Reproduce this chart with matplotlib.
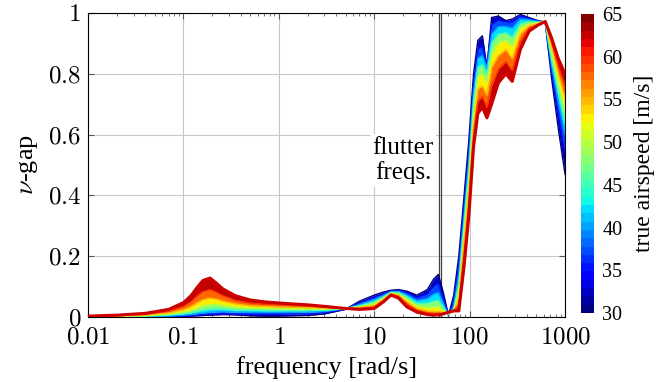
import matplotlib
matplotlib.use("Agg")
import matplotlib as mpl
import matplotlib.pyplot as plt
from matplotlib.ticker import FuncFormatter, LogLocator, NullFormatter

# ---- datos ----
freq = [0.01, 0.02, 0.04, 0.07,
        0.1, 0.12, 0.14, 0.16, 0.19, 0.22, 0.26, 0.35, 0.5, 0.7, 1,
        2, 3, 5, 7, 10,
        12.5, 15, 18, 22, 28,
        36, 42, 47, 53, 60, 68,
        77, 87, 98, 110, 122, 136, 152, 170,
        200, 240, 280, 340, 420, 520, 620, 720, 850, 1000]

speeds = [30, 35, 40, 45, 50, 55, 60, 65]

nu_gap_30 = [0.0, 0.0, 0.0, 0.001,
             0.002, 0.003, 0.004, 0.005, 0.006, 0.007, 0.008, 0.007, 0.004, 0.003, 0.003,
             0.005, 0.01, 0.025, 0.052, 0.072,
             0.082, 0.088, 0.09, 0.085, 0.072,
             0.09, 0.125, 0.14, 0.08, 0.005, 0.07,
             0.2, 0.39, 0.58, 0.8, 0.91, 0.925, 0.82, 0.985,
             0.99, 0.975, 0.98, 0.995, 0.985, 0.975, 0.97, 0.79, 0.62, 0.47]
nu_gap_35 = [0.0, 0.0, 0.001, 0.002,
             0.003, 0.004, 0.006, 0.008, 0.009, 0.010, 0.011, 0.010, 0.009, 0.009, 0.009,
             0.01, 0.014, 0.026, 0.046, 0.064,
             0.076, 0.086, 0.087, 0.079, 0.063,
             0.075, 0.1, 0.11, 0.06, 0.006, 0.05,
             0.17, 0.36, 0.55, 0.77, 0.88, 0.89, 0.83, 0.96,
             0.975, 0.97, 0.97, 0.99, 0.982, 0.974, 0.97, 0.81, 0.67, 0.54]
nu_gap_40 = [0.0, 0.001, 0.002, 0.003,
             0.006, 0.008, 0.011, 0.013, 0.016, 0.017, 0.018, 0.016, 0.015, 0.015, 0.015,
             0.016, 0.018, 0.027, 0.041, 0.057,
             0.071, 0.083, 0.084, 0.073, 0.054,
             0.06, 0.075, 0.08, 0.045, 0.007, 0.035,
             0.14, 0.33, 0.515, 0.74, 0.85, 0.86, 0.82, 0.93,
             0.955, 0.955, 0.95, 0.98, 0.978, 0.972, 0.971, 0.83, 0.71, 0.60]
nu_gap_45 = [0.0, 0.001, 0.003, 0.006,
             0.010, 0.014, 0.019, 0.023, 0.026, 0.027, 0.026, 0.023, 0.022, 0.021, 0.021,
             0.021, 0.022, 0.027, 0.037, 0.05,
             0.066, 0.081, 0.08, 0.066, 0.045,
             0.045, 0.052, 0.055, 0.032, 0.008, 0.025,
             0.11, 0.3, 0.48, 0.71, 0.82, 0.83, 0.8, 0.9,
             0.93, 0.935, 0.92, 0.965, 0.972, 0.97, 0.971, 0.85, 0.74, 0.64]
nu_gap_50 = [0.001, 0.002, 0.004, 0.009,
             0.016, 0.022, 0.030, 0.037, 0.041, 0.041, 0.038, 0.032, 0.029, 0.028, 0.027,
             0.026, 0.026, 0.028, 0.034, 0.044,
             0.062, 0.079, 0.076, 0.058, 0.036,
             0.03, 0.032, 0.033, 0.022, 0.01, 0.02,
             0.085, 0.27, 0.45, 0.67, 0.79, 0.8, 0.77, 0.86,
             0.9, 0.91, 0.89, 0.95, 0.965, 0.968, 0.972, 0.87, 0.77, 0.68]
nu_gap_55 = [0.001, 0.003, 0.006, 0.013,
             0.024, 0.034, 0.047, 0.057, 0.062, 0.059, 0.052, 0.043, 0.037, 0.035, 0.033,
             0.031, 0.029, 0.028, 0.031, 0.038,
             0.058, 0.077, 0.072, 0.05, 0.028,
             0.02, 0.018, 0.018, 0.015, 0.012, 0.019,
             0.06, 0.24, 0.41, 0.63, 0.75, 0.76, 0.73, 0.82,
             0.86, 0.88, 0.85, 0.93, 0.958, 0.965, 0.972, 0.89, 0.80, 0.72]
nu_gap_60 = [0.002, 0.004, 0.009, 0.019,
             0.035, 0.050, 0.070, 0.084, 0.090, 0.082, 0.070, 0.055, 0.046, 0.042, 0.040,
             0.036, 0.032, 0.028, 0.028, 0.033,
             0.054, 0.075, 0.068, 0.042, 0.022,
             0.013, 0.01, 0.011, 0.012, 0.014, 0.02,
             0.04, 0.2, 0.37, 0.6, 0.71, 0.725, 0.69, 0.76,
             0.815, 0.84, 0.81, 0.905, 0.95, 0.962, 0.972, 0.905, 0.825, 0.76]
nu_gap_65 = [0.003, 0.006, 0.012, 0.025,
             0.047, 0.070, 0.098, 0.120, 0.128, 0.112, 0.092, 0.070, 0.056, 0.050, 0.046,
             0.040, 0.035, 0.028, 0.025, 0.028,
             0.05, 0.072, 0.062, 0.033, 0.016,
             0.008, 0.006, 0.007, 0.01, 0.016, 0.02,
             0.02, 0.16, 0.33, 0.56, 0.67, 0.69, 0.655, 0.70,
             0.77, 0.80, 0.775, 0.88, 0.94, 0.96, 0.972, 0.92, 0.85, 0.80]

curvas = [nu_gap_30, nu_gap_35, nu_gap_40, nu_gap_45,
          nu_gap_50, nu_gap_55, nu_gap_60, nu_gap_65]

flutter_freqs = [47.2, 50.4]

# ---- estilo ----
plt.rcParams['font.family'] = ['Liberation Serif', 'DejaVu Serif']
plt.rcParams['mathtext.fontset'] = 'cm'

cmap = plt.get_cmap('jet', 36)
norm = mpl.colors.Normalize(vmin=30, vmax=65)

fig = plt.figure(figsize=(6.72, 3.82), dpi=100)
ax = fig.add_axes([0.1310, 0.1702, 0.7098, 0.7958])
cax = fig.add_axes([0.8646, 0.1806, 0.0193, 0.7827])

# bandas de color entre curvas consecutivas
for k in range(len(speeds) - 1):
    mid = 0.5 * (speeds[k] + speeds[k + 1])
    ax.fill_between(freq, curvas[k], curvas[k + 1], color=cmap(norm(mid)),
                    lw=0, zorder=2)
for s, c in zip(speeds, curvas):
    if s == speeds[-1]:
        ax.plot(freq, c, color='#cc0000', lw=2.2, zorder=3)
    else:
        ax.plot(freq, c, color=cmap(norm(s)), lw=1.0, zorder=3)

for f in flutter_freqs:
    ax.axvline(f, color='0.25', lw=0.9, zorder=1.5)

ax.text(20, 0.515, 'flutter\nfreqs.', ha='center', va='center', fontsize=18,
        linespacing=1.1, zorder=4,
        bbox=dict(fc='white', ec='none', pad=2))

ax.set_xscale('log')
ax.set_xlim(0.01, 1000)
ax.set_ylim(0, 1)
ax.set_yticks([0, 0.2, 0.4, 0.6, 0.8, 1])
ax.xaxis.set_major_locator(LogLocator(base=10, numticks=10))
ax.xaxis.set_minor_locator(LogLocator(base=10, subs=range(2, 10), numticks=50))
ax.xaxis.set_minor_formatter(NullFormatter())
fmt = FuncFormatter(lambda v, p: f'${v:g}$')
ax.xaxis.set_major_formatter(fmt)
ax.yaxis.set_major_formatter(fmt)

ax.grid(True, which='major', color='#c8c8c8', lw=0.8, zorder=0)
ax.set_axisbelow(True)
ax.tick_params(which='both', direction='in', top=True, right=True,
               labelsize=18, color='0.35')
ax.tick_params(which='major', length=4)
ax.tick_params(axis='x', which='major', pad=7)
ax.tick_params(axis='y', which='major', pad=5)
ax.tick_params(which='minor', length=2.5)
for sp in ax.spines.values():
    sp.set_linewidth(0.8)

ax.set_xlabel('frequency [rad/s]', fontsize=19, labelpad=5)
ax.set_ylabel(r'$\nu$-gap', fontsize=19, labelpad=6)

cb = fig.colorbar(mpl.cm.ScalarMappable(norm=norm, cmap=cmap), cax=cax)
cb.set_ticks(range(30, 70, 5))
cb.outline.set_visible(False)
cax.tick_params(length=0, labelsize=14.5, pad=6)
cb.set_label('true airspeed [m/s]', fontsize=17, labelpad=8)

fig.savefig('out.png', dpi=100)
